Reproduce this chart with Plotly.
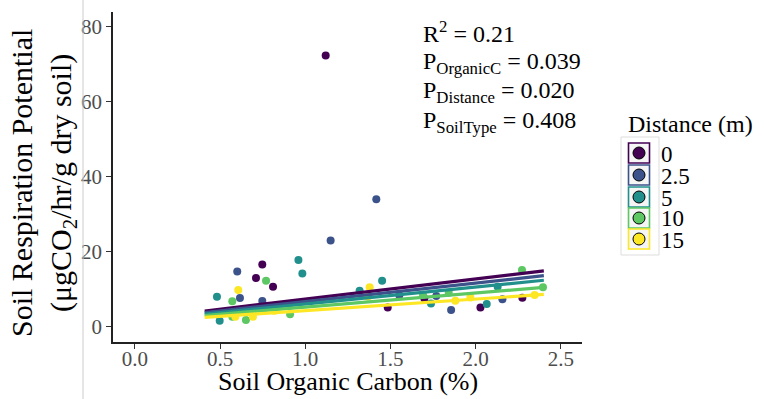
import plotly.graph_objects as go

# ---- data ----
distances = ["0", "2.5", "5", "10", "15"]
colors = ["#440154", "#3B528B", "#21908C", "#5DC863", "#FDE725"]

soc_0 = [1.12, 0.748, 0.711, 0.811, 1.484, 1.699, 2.028, 2.274]
resp_0 = [72.3, 16.6, 13.0, 10.65, 5.16, 7.55, 5.16, 7.7]

soc_25 = [1.417, 1.149, 0.601, 0.617, 0.748, 1.552, 1.769, 1.856, 2.157]
resp_25 = [34.0, 23.0, 14.75, 7.64, 6.84, 8.36, 8.2, 4.45, 7.3]

soc_5 = [0.96, 0.983, 0.482, 0.498, 1.451, 1.319, 1.738, 2.129, 2.065]
resp_5 = [17.8, 14.2, 8.0, 1.6, 12.25, 9.6, 6.2, 10.65, 6.04]

soc_10 = [0.770, 0.572, 0.652, 0.572, 0.911, 1.691, 1.842, 2.272, 2.395]
resp_10 = [12.25, 6.76, 1.78, 2.66, 3.3, 8.5, 9.06, 15.1, 10.5]

soc_15 = [0.607, 0.59, 0.693, 0.819, 1.378, 1.368, 1.881, 1.969, 2.346]
resp_15 = [9.77, 2.66, 2.66, 4.26, 10.5, 8.0, 6.9, 7.8, 8.44]

# fitted lines per distance: value at start and end of fitted range
fit_x = [0.41, 2.40]
fit_start = [4.2, 3.8, 3.4, 3.0, 2.5]
fit_end = [14.9, 13.6, 12.4, 10.5, 8.6]

xticks = [0.0, 0.5, 1.0, 1.5, 2.0, 2.5]
yticks = [0, 20, 40, 60, 80]

groups_x = [soc_0, soc_25, soc_5, soc_10, soc_15]
groups_y = [resp_0, resp_25, resp_5, resp_10, resp_15]

FONT = "Liberation Serif, Times New Roman, serif"
W, H = 764, 399
L, R, T, B = 113, 582, 12, 342


def px(xp):
    return (xp - L) / (R - L)


def py(yp):
    return (B - yp) / (B - T)


fig = go.Figure()

for xs, ys, c, d in zip(groups_x, groups_y, colors, distances):
    fig.add_trace(go.Scatter(x=xs, y=ys, mode="markers", name=d,
                             marker=dict(color=c, size=8, line=dict(width=0)),
                             showlegend=False, hoverinfo="x+y"))

for c, d, s, e in zip(colors, distances, fit_start, fit_end):
    fig.add_trace(go.Scatter(x=fit_x, y=[s, e], mode="lines", name=d,
                             line=dict(color=c, width=3.2),
                             showlegend=False, hoverinfo="skip"))

axis_common = dict(showgrid=False, zeroline=False, showline=True,
                   linecolor="#222222", linewidth=1.6, ticks="outside",
                   ticklen=5, tickwidth=1.2, tickcolor="#333333",
                   tickfont=dict(family=FONT, size=21, color="#4D4D4D"))

fig.update_xaxes(range=[-0.128, 2.624], tickvals=xticks,
                 ticktext=[f"{v:.1f}" for v in xticks], ticklabelstandoff=-8,
                 **axis_common)
fig.update_yaxes(range=[-4.07, 83.9], tickvals=yticks,
                 ticktext=[str(v) for v in yticks], **axis_common)

annotations = []
# axis titles
annotations.append(dict(text="Soil Organic Carbon (%)", xref="paper", yref="paper",
                        x=0.5, y=py(382), xanchor="center", yanchor="middle",
                        showarrow=False, font=dict(family=FONT, size=26, color="black")))
annotations.append(dict(text="Soil Respiration Potential<br>(μgCO<sub>2</sub>/hr/g dry soil)",
                        xref="paper", yref="paper", x=px(43), y=py(183),
                        xanchor="center", yanchor="middle", textangle=-90,
                        showarrow=False, font=dict(family=FONT, size=30, color="black")))

# statistics text
stats = [("R<sup>2</sup> = 0.21", 32),
         ("P<sub>OrganicC</sub> = 0.039", 63),
         ("P<sub>Distance</sub> = 0.020", 92),
         ("P<sub>SoilType</sub> = 0.408", 122)]
for txt, yc in stats:
    annotations.append(dict(text=txt, xref="paper", yref="paper", x=px(421), y=py(yc),
                            xanchor="left", yanchor="middle", showarrow=False,
                            font=dict(family=FONT, size=24, color="black")))

# legend title
annotations.append(dict(text="Distance (m)", xref="paper", yref="paper", x=px(626), y=py(124),
                        xanchor="left", yanchor="middle", showarrow=False,
                        font=dict(family=FONT, size=24, color="black")))

shapes = []
# faint vertical line at left
shapes.append(dict(type="line", xref="paper", yref="paper", x0=px(83), x1=px(83),
                   y0=py(0), y1=py(399), line=dict(color="#CCCCCC", width=1)))
# legend frame
shapes.append(dict(type="rect", xref="paper", yref="paper", x0=px(621), x1=px(659),
                   y0=py(137), y1=py(255), line=dict(color="#DDDDDD", width=1),
                   fillcolor="rgba(0,0,0,0)"))

key_centers = [153, 175, 197, 218, 239]
for c, d, yc in zip(colors, distances, key_centers):
    shapes.append(dict(type="rect", xref="paper", yref="paper",
                       x0=px(628.5), x1=px(649.5), y0=py(yc - 10), y1=py(yc + 10),
                       line=dict(color=c, width=1.6), fillcolor="rgba(245,245,245,1)",
                       layer="above"))
    shapes.append(dict(type="circle", xref="paper", yref="paper",
                       xsizemode="pixel", ysizemode="pixel",
                       xanchor=px(639), yanchor=py(yc),
                       x0=-6, x1=6, y0=-6, y1=6,
                       line=dict(color="black", width=1), fillcolor=c, layer="above"))
    annotations.append(dict(text=d, xref="paper", yref="paper", x=px(659), y=py(yc + 1),
                            xanchor="left", yanchor="middle", showarrow=False,
                            font=dict(family=FONT, size=23, color="black")))

fig.update_layout(width=W, height=H, margin=dict(l=L, r=W - R, t=T, b=H - B),
                  plot_bgcolor="white", paper_bgcolor="white",
                  annotations=annotations, shapes=shapes, showlegend=False)

fig.write_html("out.html", config={"displayModeBar": False},
               post_script="document.body.style.margin='0';document.body.style.overflow='hidden';")
